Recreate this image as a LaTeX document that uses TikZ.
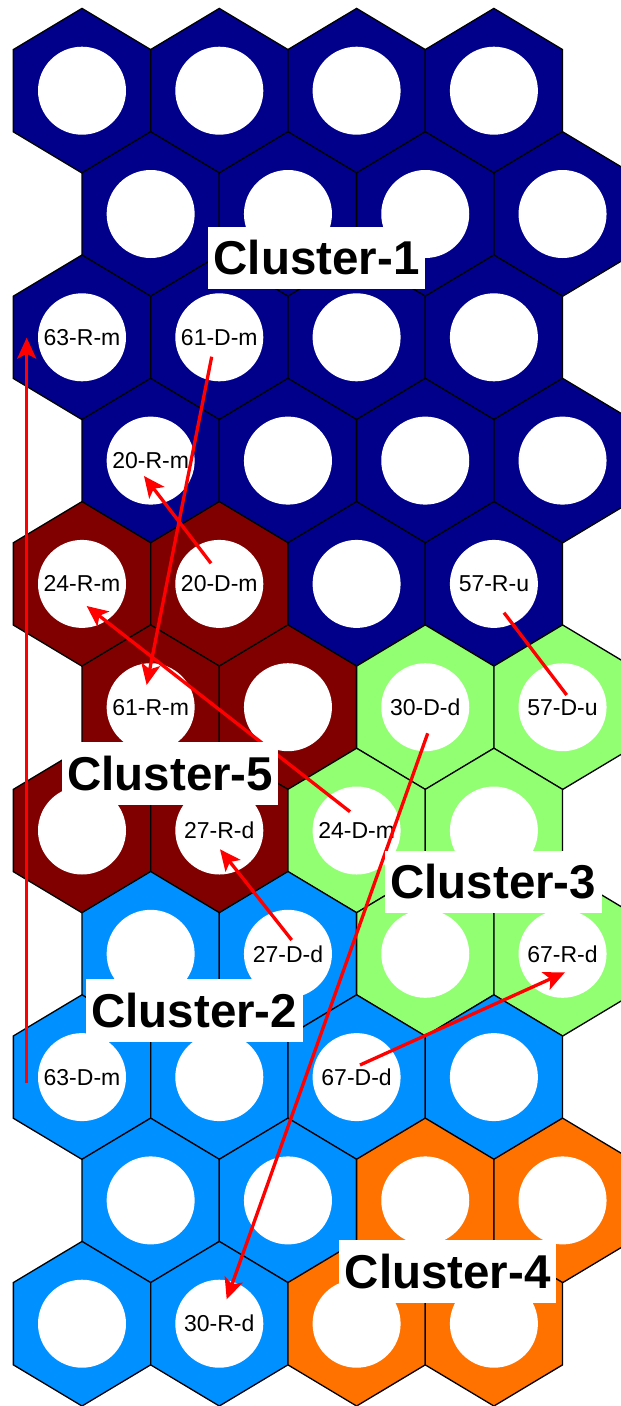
\documentclass[tikz,border=0pt]{standalone}
\usepackage{fontspec}
\setmainfont{Liberation Sans}
\usetikzlibrary{calc,arrows.meta}
\definecolor{cDB}{RGB}{0,0,139}
\definecolor{cMR}{RGB}{128,0,0}
\definecolor{cLG}{RGB}{146,255,115}
\definecolor{cLB}{RGB}{0,144,255}
\definecolor{cOR}{RGB}{255,114,0}
\tikzset{
  hexcell/.style={draw=black,line width=1.3pt,line join=miter},
  hole/.style={circle,fill=white,draw=none,minimum size=88pt,inner sep=0pt},
  lbl/.style={font=\fontsize{23}{23}\selectfont,inner sep=0pt},
  clusterbox/.style={fill=white,draw=none,inner sep=0pt,minimum width=216.5pt,minimum height=62.6pt,font=\fontsize{47.5}{47.5}\selectfont\bfseries},
  link/.style={draw=red,line width=3.3pt,-{Stealth[length=21pt,width=19pt,inset=5pt]}},
  plainlink/.style={draw=red,line width=3.3pt}
}
\begin{document}
\begin{tikzpicture}[x=1pt,y=-1pt]
\useasboundingbox (0,0) rectangle (621,1406);
\fill[white] (0,0) rectangle (621,1406);
\begin{scope}
\clip (0,0) rectangle (621,1406);
\foreach \r/\c/\col in {
 0/0/cDB,0/1/cDB,0/2/cDB,0/3/cDB,
 1/0/cDB,1/1/cDB,1/2/cDB,1/3/cDB,
 2/0/cDB,2/1/cDB,2/2/cDB,2/3/cDB,
 3/0/cDB,3/1/cDB,3/2/cDB,3/3/cDB,
 4/0/cMR,4/1/cMR,4/2/cDB,4/3/cDB,
 5/0/cMR,5/1/cMR,5/2/cLG,5/3/cLG,
 6/0/cMR,6/1/cMR,6/2/cLG,6/3/cLG,
 7/0/cLB,7/1/cLB,7/2/cLG,7/3/cLG,
 8/0/cLB,8/1/cLB,8/2/cLB,8/3/cLB,
 9/0/cLB,9/1/cLB,9/2/cOR,9/3/cOR,
 10/0/cLB,10/1/cLB,10/2/cOR,10/3/cOR}{
  \pgfmathsetmacro{\cx}{82+137.3*\c+68.65*mod(\r,2)}
  \pgfmathsetmacro{\cy}{90.7+123.3*\r}
  \filldraw[hexcell,fill=\col] (\cx,\cy-82.3) -- (\cx+68.65,\cy-41.15) -- (\cx+68.65,\cy+41.15)
    -- (\cx,\cy+82.3) -- (\cx-68.65,\cy+41.15) -- (\cx-68.65,\cy-41.15) -- cycle;
  \node[hole] (c\r\c) at (\cx,\cy) {};
}
\end{scope}
% circle labels
\node[lbl] (t20) at (c20) {63-R-m};
\node[lbl] (t21) at (c21) {61-D-m};
\node[lbl] (t30) at (c30) {20-R-m};
\node[lbl] (t40) at (c40) {24-R-m};
\node[lbl] (t41) at (c41) {20-D-m};
\node[lbl] (t43) at (c43) {57-R-u};
\node[lbl] (t50) at (c50) {61-R-m};
\node[lbl] (t52) at (c52) {30-D-d};
\node[lbl] (t53) at (c53) {57-D-u};
\node[lbl] (t61) at (c61) {27-R-d};
\node[lbl] (t62) at (c62) {24-D-m};
\node[lbl] (t71) at (c71) {27-D-d};
\node[lbl] (t73) at (c73) {67-R-d};
\node[lbl] (t80) at (c80) {63-D-m};
\node[lbl] (t82) at (c82) {67-D-d};
\node[lbl] (t101) at (c101) {30-R-d};
% links
\draw[link] ($(c80)+(-55.3,5.6)$) -- ($(c20)+(-55.3,0.4)$);
\draw[link] ($(c21)+(-7.6,19.4)$) -- ($(c50)+(-4,-22.2)$);
\draw[link] ($(c41)+(-8.3,-20.6)$) -- ($(c30)+(-6.65,15.4)$);
\draw[link] ($(c62)+(-6.6,-18.8)$) -- ($(c40)+(4.7,22.1)$);
\draw[plainlink] ($(c43)+(10.1,28.8)$) -- ($(c53)+(4.15,-12.2)$);
\draw[link] ($(c71)+(3.75,-13.8)$) -- ($(c61)+(0.7,18.8)$);
\draw[link] ($(c82)+(3.4,-12.1)$) -- ($(c73)+(2.45,18.5)$);
\draw[link] ($(c52)+(2.45,26.1)$) -- ($(c101)+(7.4,-24.4)$);
% cluster labels
\node[clusterbox] (k1) at (316.5,258) {Cluster-1};
\node[clusterbox] (k5) at (170.2,773.4) {Cluster-5};
\node[clusterbox] (k3) at (493.3,882) {Cluster-3};
\node[clusterbox] (k2) at (194.3,1010.3) {Cluster-2};
\node[clusterbox] (k4) at (447.7,1271.2) {Cluster-4};
\end{tikzpicture}
\end{document}
